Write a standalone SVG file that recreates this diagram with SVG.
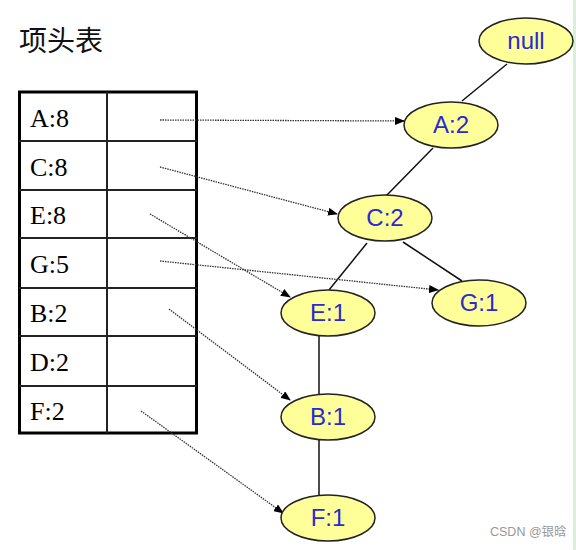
<svg xmlns="http://www.w3.org/2000/svg" width="576" height="550" viewBox="0 0 576 550">
<style>
.cell{font-family:"Liberation Serif",serif;font-size:26px;fill:#000}
.node ellipse{fill:#ffff99;stroke:#222;stroke-width:1.5}
.node text{font-family:"Liberation Sans",Arial,sans-serif;font-size:24px;fill:#2a2ad0;text-anchor:middle}
.tree line{stroke:#111;stroke-width:1.5}
.ptr line{stroke:#333;stroke-width:1.3;stroke-dasharray:1.5 1}
</style>
<defs>
<marker id="ah" markerWidth="10" markerHeight="8" refX="9" refY="4" orient="auto" markerUnits="userSpaceOnUse">
<path d="M0,0 L10,4 L0,8 z" fill="#000"/>
</marker>
</defs>
<rect width="576" height="550" fill="#fff"/>
<rect x="573" y="0" width="3" height="550" fill="#d9efd9"/>
<text x="19" y="51" font-family="'Noto Sans CJK SC',sans-serif" font-size="28" fill="#111">项头表</text>
<g id="table">
<rect x="19.5" y="92" width="177" height="341" fill="#fff" stroke="#000" stroke-width="3"/>
<g stroke="#222" stroke-width="2">
<line x1="107" y1="92" x2="107" y2="433"/>
<line x1="19" y1="141" x2="197" y2="141"/>
<line x1="19" y1="190" x2="197" y2="190"/>
<line x1="19" y1="238" x2="197" y2="238"/>
<line x1="19" y1="288" x2="197" y2="288"/>
<line x1="19" y1="336" x2="197" y2="336"/>
<line x1="19" y1="386" x2="197" y2="386"/>
</g>
<text class="cell" x="30" y="127">A:8</text>
<text class="cell" x="30" y="176">C:8</text>
<text class="cell" x="30" y="224">E:8</text>
<text class="cell" x="30" y="273">G:5</text>
<text class="cell" x="30" y="322">B:2</text>
<text class="cell" x="30" y="371">D:2</text>
<text class="cell" x="30" y="420">F:2</text>
</g>
<g id="connectors">
<g class="tree">
<line x1="507" y1="64" x2="462" y2="101"/>
<line x1="433" y1="148" x2="386" y2="196"/>
<line x1="367" y1="243" x2="329" y2="290"/>
<line x1="403" y1="242" x2="462" y2="281"/>
<line x1="319" y1="336" x2="319" y2="394"/>
<line x1="319" y1="440" x2="319" y2="496"/>
</g>
<g class="ptr">
<line x1="160" y1="120" x2="404" y2="121" marker-end="url(#ah)"/>
<line x1="160" y1="167" x2="337" y2="214" marker-end="url(#ah)"/>
<line x1="150" y1="214" x2="290" y2="297" marker-end="url(#ah)"/>
<line x1="160" y1="261" x2="438" y2="290" marker-end="url(#ah)"/>
<line x1="169" y1="309" x2="290" y2="400" marker-end="url(#ah)"/>
<line x1="141" y1="411" x2="283" y2="513" marker-end="url(#ah)"/>
</g>
</g>
<g id="null" class="node"><ellipse cx="526" cy="41" rx="47" ry="23"/><text x="526" y="49">null</text></g>
<g id="A2" class="node"><ellipse cx="451" cy="125" rx="47" ry="23"/><text x="451" y="133">A:2</text></g>
<g id="C2" class="node"><ellipse cx="385" cy="218" rx="47" ry="23"/><text x="385" y="226">C:2</text></g>
<g id="E1" class="node"><ellipse cx="328" cy="313" rx="47" ry="23"/><text x="328" y="321">E:1</text></g>
<g id="G1" class="node"><ellipse cx="479" cy="303" rx="47" ry="23"/><text x="479" y="311">G:1</text></g>
<g id="B1" class="node"><ellipse cx="328" cy="417" rx="47" ry="23"/><text x="328" y="425">B:1</text></g>
<g id="F1" class="node"><ellipse cx="328" cy="518" rx="47" ry="23"/><text x="328" y="526">F:1</text></g>
<text x="490" y="536" font-family="'Liberation Sans','Noto Sans CJK SC',sans-serif" font-size="12.5" fill="#999">CSDN @银晗</text>
</svg>
